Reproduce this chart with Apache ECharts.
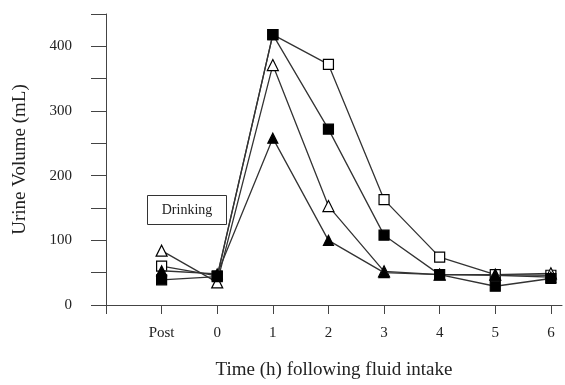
<!DOCTYPE html>
<html>
<head>
<meta charset="utf-8">
<script src="https://cdn.jsdelivr.net/npm/echarts@6/dist/echarts.min.js"></script>
<style>
  html, body { margin: 0; padding: 0; background: #fff; }
  #chart { width: 565px; height: 385px; }
</style>
</head>
<body>
<div id="chart"></div>
<script>
// Time points: -1 stands for the "Post" sample, then hours 0..6
const timePoints = [-1, 0, 1, 2, 3, 4, 5, 6];
const tickLabels = { '-1': 'Post', '0': '0', '1': '1', '2': '2', '3': '3', '4': '4', '5': '5', '6': '6' };

// Urine volume (mL) per condition
const openSquare     = [60, 45, 418, 372, 163, 74, 47, 46];
const openTriangle   = [84, 35, 371, 153, 52, 47, 47, 49];
const filledTriangle = [53, 48, 258, 100, 50, 47, 46, 43];
const filledSquare   = [39, 44, 418, 272, 108, 47, 29, 41];

const legendText = 'Drinking';

const font = 'Liberation Serif';
const ink = '#222';

function pairs(values) {
  return timePoints.map((t, i) => [t, values[i]]);
}

function makeSeries(values, symbol, filled, size) {
  return {
    type: 'line',
    data: pairs(values),
    symbol: symbol,
    symbolSize: size,
    showAllSymbol: true,
    lineStyle: { color: '#333', width: 1.3 },
    itemStyle: {
      color: filled ? '#000' : '#fff',
      borderColor: '#000',
      borderWidth: 1.2
    },
    emphasis: { disabled: true },
    z: filled ? 3 : 2
  };
}

const chart = echarts.init(document.getElementById('chart'), null, { renderer: 'canvas' });

chart.setOption({
  animation: false,
  backgroundColor: '#fff',
  grid: { left: 106, right: 3, top: 14, bottom: 77, containLabel: false },
  xAxis: {
    type: 'value',
    min: -2,
    max: 6.2,
    interval: 1,
    name: 'Time (h) following fluid intake',
    nameLocation: 'middle',
    nameGap: 56,
    nameTextStyle: { fontFamily: font, fontSize: 19, color: ink },
    axisLine: { onZero: false, lineStyle: { color: '#444', width: 1 } },
    axisTick: { show: true, length: 9, lineStyle: { color: '#444', width: 1 } },
    axisLabel: {
      fontFamily: font, fontSize: 15, color: ink, margin: 21,
      showMaxLabel: false,
      formatter: v => tickLabels[String(v)] || ''
    },
    splitLine: { show: false }
  },
  yAxis: {
    type: 'value',
    min: 0,
    max: 450,
    interval: 50,
    name: 'Urine Volume (mL)',
    nameLocation: 'middle',
    nameGap: 76,
    nameTextStyle: { fontFamily: font, fontSize: 19, color: ink },
    axisLine: { show: true, onZero: false, lineStyle: { color: '#444', width: 1 } },
    axisTick: { show: true, length: 15, lineStyle: { color: '#444', width: 1 } },
    axisLabel: {
      fontFamily: font, fontSize: 15, color: ink, margin: 34,
      formatter: v => (v % 100 === 0 && v < 450) ? String(v) : ''
    },
    splitLine: { show: false }
  },
  graphic: [
    {
      type: 'rect',
      shape: { x: 147.5, y: 195.5, width: 79, height: 29 },
      style: { fill: '#fff', stroke: '#333', lineWidth: 1 },
      z: 10
    },
    {
      type: 'text',
      x: 187, y: 210,
      style: {
        text: legendText,
        fontFamily: font, fontSize: 14, fill: ink,
        align: 'center', verticalAlign: 'middle'
      },
      z: 11
    }
  ],
  series: [
    makeSeries(openSquare, 'rect', false, 10),
    makeSeries(openTriangle, 'triangle', false, 11),
    makeSeries(filledTriangle, 'triangle', true, 10),
    makeSeries(filledSquare, 'rect', true, 10)
  ]
});
</script>
</body>
</html>
